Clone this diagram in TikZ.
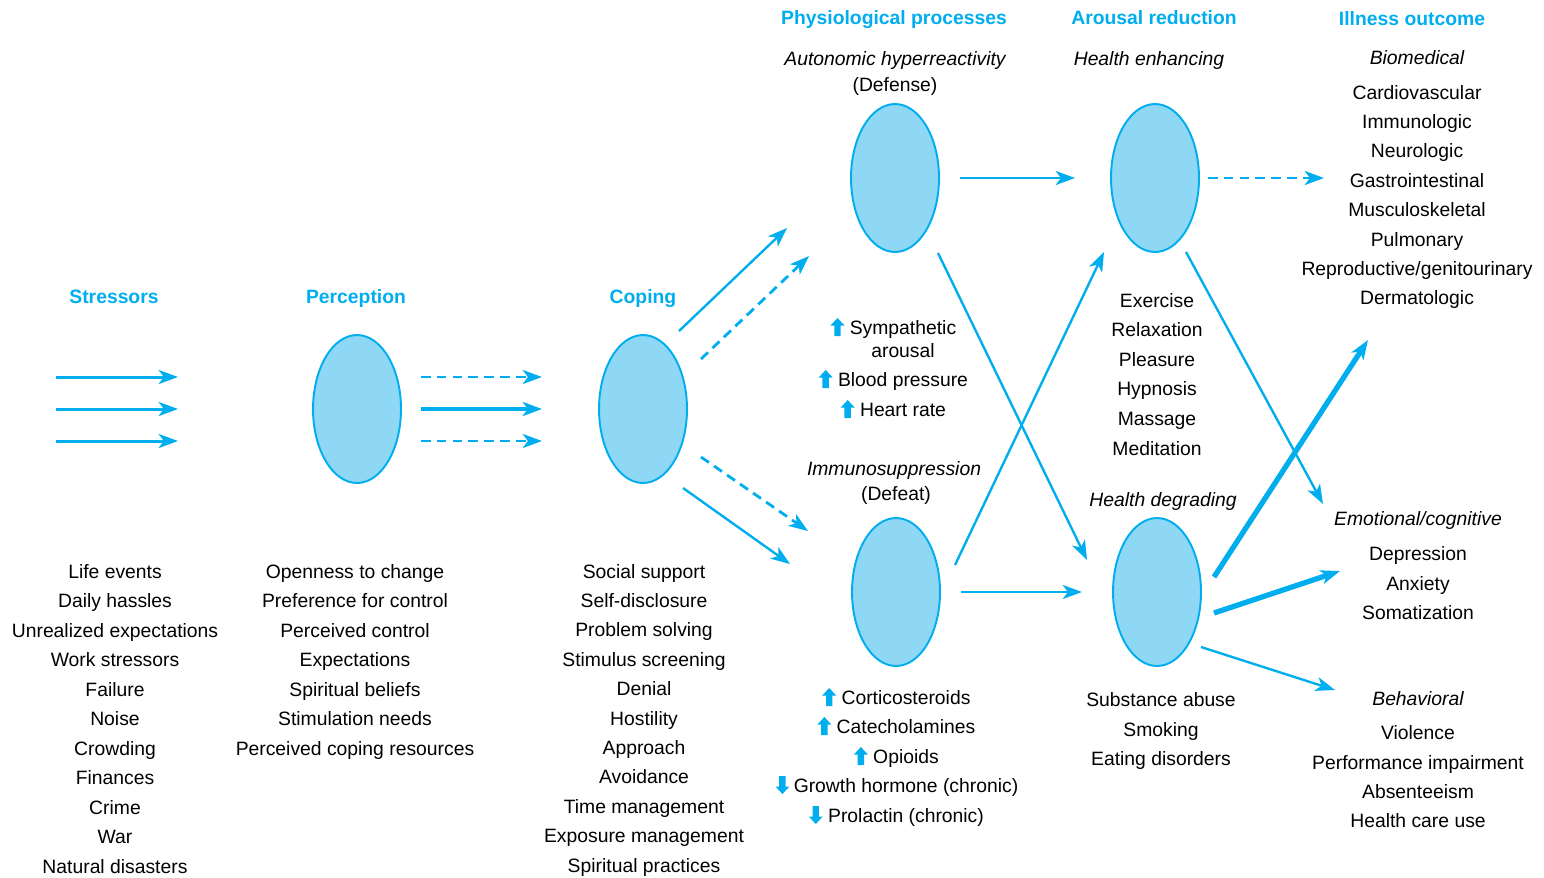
\documentclass[tikz,border=0pt]{standalone}
\usepackage{fontspec}
\setmainfont{Liberation Sans}
\usetikzlibrary{arrows.meta,shapes.geometric}
\definecolor{sky}{RGB}{0,174,239}
\definecolor{skyfill}{RGB}{143,216,245}
\begin{document}
\begin{tikzpicture}[x=0.02cm,y=-0.02cm,
  txt/.style={inner sep=0pt, text height=8pt, text depth=0pt, font=\fontsize{11}{13}\selectfont},
  head/.style={txt, font=\fontsize{11}{13}\selectfont\bfseries, text=sky},
  sub/.style={txt, font=\fontsize{11}{13}\selectfont\itshape},
  ell/.style={ellipse, draw=sky, fill=skyfill, line width=1.1pt, minimum width=1.76cm, minimum height=2.96cm, inner sep=0pt},
  arr/.style={draw=sky, line width=1.35pt, -{Stealth[length=11pt,width=8pt,inset=3pt]}},
  midarr/.style={arr, line width=1.7pt},
  bigarr/.style={arr, line width=3pt},
  dasharr/.style={arr, line width=1.6pt, dash pattern=on 5.5pt off 3.5pt},
  upar/.pic={\fill[sky] (0,-9) -- (7,-1.5) -- (3.2,-1.5) -- (3.2,9) -- (-3.2,9) -- (-3.2,-1.5) -- (-7,-1.5) -- cycle;},
  downar/.pic={\fill[sky] (0,9) -- (7,1.5) -- (3.2,1.5) -- (3.2,-9) -- (-3.2,-9) -- (-3.2,1.5) -- (-7,1.5) -- cycle;},
]
\useasboundingbox (0,0) rectangle (1544,877);

% column headings
\node[head] (hstr) at (114,296) {Stressors};
\node[head] (hper) at (356,296) {Perception};
\node[head] (hcop) at (643,296) {Coping};
\node[head] (hphy) at (894,17) {Physiological processes};
\node[head] (haro) at (1154,17) {Arousal reduction};
\node[head] (hill) at (1412,18) {Illness outcome};

% ellipses
\node[ell] (per) at (357,409) {};
\node[ell] (cop) at (643,409) {};
\node[ell] (def) at (895,178) {};
\node[ell] (dft) at (896,592) {};
\node[ell] (enh) at (1155,178) {};
\node[ell] (deg) at (1157,592) {};

% stressors
\foreach \y in {377,409,441} {
  \coordinate (s\y a) at (56,\y);
  \coordinate (s\y b) at (178,\y);
  \draw[midarr] (s\y a) -- (s\y b);
}
\foreach \t [count=\i from 0] in {Life events, Daily hassles, Unrealized expectations, Work stressors, Failure, Noise, Crowding, Finances, Crime, War, Natural disasters}
  \node[txt] (str\i) at (115,571+29.5*\i) {\t};

% perception
\coordinate (p1a) at (421,377); \coordinate (p1b) at (542,377);
\coordinate (p2a) at (421,409); \coordinate (p2b) at (542,409);
\coordinate (p3a) at (421,441); \coordinate (p3b) at (542,441);
\draw[dasharr] (p1a) -- (p1b);
\draw[bigarr, line width=2.8pt] (p2a) -- (p2b);
\draw[dasharr] (p3a) -- (p3b);
\foreach \t [count=\i from 0] in {Openness to change, Preference for control, Perceived control, Expectations, Spiritual beliefs, Stimulation needs, Perceived coping resources}
  \node[txt] (pl\i) at (355,571+29.5*\i) {\t};

% coping
\coordinate (c1a) at (679,331); \coordinate (c1b) at (787,228);
\coordinate (c2a) at (701,359); \coordinate (c2b) at (809,256);
\coordinate (c3a) at (701,457); \coordinate (c3b) at (808,531);
\coordinate (c4a) at (683,488); \coordinate (c4b) at (790,564);
\draw[arr] (c1a) -- (c1b);
\draw[dasharr] (c2a) -- (c2b);
\draw[dasharr] (c3a) -- (c3b);
\draw[arr] (c4a) -- (c4b);
\foreach \t [count=\i from 0] in {Social support, Self-disclosure, Problem solving, Stimulus screening, Denial, Hostility, Approach, Avoidance, Time management, Exposure management, Spiritual practices}
  \node[txt] (cl\i) at (644,571+29.4*\i) {\t};

% physiological processes
\node[sub] (ahr) at (895,58) {Autonomic hyperreactivity};
\node[txt] (dfs) at (895,84) {(Defense)};
\node[txt] (sym) at (903,327) {Sympathetic};
\node[txt] (aro) at (903,350) {arousal};
\node[txt] (bp) at (903,379) {Blood pressure};
\node[txt] (hr) at (903,409) {Heart rate};
\pic at ([xshift=-12*0.02cm]sym.west) {upar};
\pic at ([xshift=-12*0.02cm]bp.west) {upar};
\pic at ([xshift=-12*0.02cm]hr.west) {upar};
\node[sub] (ims) at (894,468) {Immunosuppression};
\node[txt] (dfe) at (896,493) {(Defeat)};
\node[txt] (cor) at (906,697) {Corticosteroids};
\node[txt] (cat) at (906,726) {Catecholamines};
\node[txt] (opi) at (906,756) {Opioids};
\node[txt] (gro) at (906,785) {Growth hormone (chronic)};
\node[txt] (pro) at (906,815) {Prolactin (chronic)};
\pic at ([xshift=-12*0.02cm]cor.west) {upar};
\pic at ([xshift=-12*0.02cm]cat.west) {upar};
\pic at ([xshift=-12*0.02cm]opi.west) {upar};
\pic at ([xshift=-11*0.02cm]gro.west) {downar};
\pic at ([xshift=-12*0.02cm]pro.west) {downar};

% arousal reduction
\node[sub] (hen) at (1149,58) {Health enhancing};
\foreach \t [count=\i from 0] in {Exercise, Relaxation, Pleasure, Hypnosis, Massage, Meditation}
  \node[txt] (al\i) at (1157,300+29.6*\i) {\t};
\node[sub] (hdg) at (1163,499) {Health degrading};
\node[txt] (sub1) at (1161,699) {Substance abuse};
\node[txt] (sub2) at (1161,729) {Smoking};
\node[txt] (sub3) at (1161,758) {Eating disorders};

\coordinate (d1a) at (960,178);  \coordinate (d1b) at (1075,178);
\coordinate (d2a) at (938,253);  \coordinate (d2b) at (1087,560);
\coordinate (d3a) at (955,565);  \coordinate (d3b) at (1104,252);
\coordinate (d4a) at (961,592);  \coordinate (d4b) at (1082,592);
\draw[arr] (d1a) -- (d1b);
\draw[arr] (d2a) -- (d2b);
\draw[arr] (d3a) -- (d3b);
\draw[arr] (d4a) -- (d4b);

\coordinate (e1a) at (1208,178); \coordinate (e1b) at (1324,178);
\coordinate (e2a) at (1186,252); \coordinate (e2b) at (1323,504);
\coordinate (e3a) at (1214,577); \coordinate (e3b) at (1368,340);
\coordinate (e4a) at (1214,613); \coordinate (e4b) at (1340,571);
\coordinate (e5a) at (1201,647); \coordinate (e5b) at (1335,690);
\draw[dasharr] (e1a) -- (e1b);
\draw[arr] (e2a) -- (e2b);
\draw[bigarr] (e3a) -- (e3b);
\draw[bigarr] (e4a) -- (e4b);
\draw[arr] (e5a) -- (e5b);

% illness outcome
\node[sub] (bio) at (1417,57) {Biomedical};
\foreach \t [count=\i from 0] in {Cardiovascular, Immunologic, Neurologic, Gastrointestinal, Musculoskeletal, Pulmonary, Reproductive/genitourinary, Dermatologic}
  \node[txt] (bl\i) at (1417,92+29.4*\i) {\t};
\node[sub] (emo) at (1418,518) {Emotional/cognitive};
\node[txt] (em0) at (1418,553) {Depression};
\node[txt] (em1) at (1418,583) {Anxiety};
\node[txt] (em2) at (1418,612) {Somatization};
\node[sub] (beh) at (1418,698) {Behavioral};
\node[txt] (bh0) at (1418,732) {Violence};
\node[txt] (bh1) at (1418,762) {Performance impairment};
\node[txt] (bh2) at (1418,791) {Absenteeism};
\node[txt] (bh3) at (1418,820) {Health care use};
\end{tikzpicture}
\end{document}
